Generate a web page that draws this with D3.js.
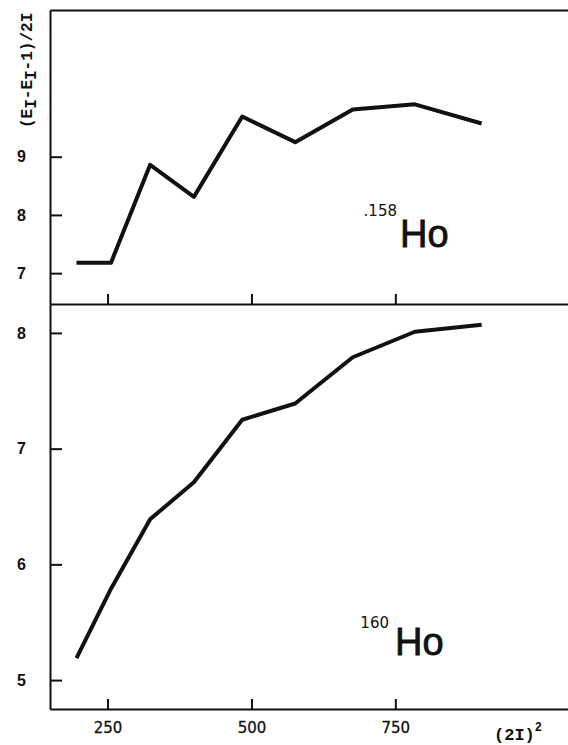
<!DOCTYPE html>
<html lang="en">
<head>
    <meta charset="UTF-8">
    <script src="https://cdn.jsdelivr.net/npm/d3@7"></script>
    <style>
        body { margin: 0; background: #fff; }
        .axis path, .axis line { stroke: #111; stroke-width: 2; }
        .ytick text { font-family: "Liberation Sans", sans-serif; font-weight: bold; font-size: 16px; fill: #111; }
        .xtick text { font-family: "DejaVu Sans", sans-serif; font-size: 15px; fill: #111; stroke: #111; stroke-width: 0.3; }
        .mono { font-family: "Liberation Mono", monospace; font-weight: bold; fill: #111; }
        .nuc { font-family: "Liberation Sans", sans-serif; font-size: 38px; fill: #111; stroke: #111; stroke-width: 0.8; }
        .mass { font-family: "DejaVu Sans", sans-serif; font-size: 15px; fill: #111; }
    </style>
</head>
<body>
<svg width="568" height="745"></svg>
<script>
    // (2I)^2 for I = 7..15
    var spinSq = [196, 256, 324, 400, 484, 576, 676, 784, 900];
    var ho158 = [7.18, 7.18, 8.86, 8.31, 9.69, 9.25, 9.81, 9.90, 9.57];
    var ho160 = [5.19, 5.79, 6.39, 6.71, 7.25, 7.39, 7.79, 8.01, 8.07];
    var xTicks = [250, 500, 750];
    var yTicksTop = [7, 8, 9];
    var yTicksBottom = [5, 6, 7, 8];

    var svg = d3.select("svg");
    var padL = 50, padR = 568, padT = 10, mid = 304, padB = 709;

    var x = d3.scaleLinear().domain([150, 1050]).range([padL, padR]);
    var yTop = d3.scaleLinear().domain([6.47, 11.52]).range([mid, padT]);
    var yBot = d3.scaleLinear().domain([4.75, 8.25]).range([padB, mid]);

    // frame lines
    svg.append("g").attr("class", "axis")
        .attr("transform", "translate(0," + padT + ")")
        .call(d3.axisTop(x).tickValues([]).tickSizeOuter(0));

    svg.append("g").attr("class", "axis")
        .attr("transform", "translate(0," + mid + ")")
        .call(d3.axisBottom(x).tickValues(xTicks).tickSize(-10).tickSizeOuter(0).tickFormat(""));

    svg.append("g").attr("class", "axis xtick")
        .attr("transform", "translate(0," + padB + ")")
        .call(d3.axisBottom(x).tickValues(xTicks).tickSize(-10).tickSizeOuter(0).tickPadding(13));

    svg.append("g").attr("class", "axis ytick")
        .attr("transform", "translate(" + padL + ",0)")
        .call(d3.axisLeft(yTop).tickValues(yTicksTop).tickFormat(d3.format("d"))
            .tickSize(-12).tickSizeOuter(0).tickPadding(24));

    svg.append("g").attr("class", "axis ytick")
        .attr("transform", "translate(" + padL + ",0)")
        .call(d3.axisLeft(yBot).tickValues(yTicksBottom).tickFormat(d3.format("d"))
            .tickSize(-12).tickSizeOuter(0).tickPadding(24));

    // curves
    function drawLine(vals, y) {
        var line = d3.line()
            .x(function (d, i) { return x(spinSq[i]); })
            .y(function (d) { return y(d); });
        svg.append("path")
            .datum(vals)
            .attr("d", line)
            .attr("fill", "none")
            .attr("stroke", "#111")
            .attr("stroke-width", 4)
            .attr("stroke-linejoin", "round");
    }
    drawLine(ho158, yTop);
    drawLine(ho160, yBot);

    // y axis title
    var yt = svg.append("text").attr("class", "mono")
        .attr("transform", "translate(32,128) rotate(-90)")
        .style("font-size", "16px");
    yt.append("tspan").text("(E");
    yt.append("tspan").attr("dy", 4).text("I");
    yt.append("tspan").attr("dy", -4).text("-E");
    yt.append("tspan").attr("dy", 4).text("I");
    yt.append("tspan").attr("dy", -4).text("-1)/2I");

    // x axis title
    var xt = svg.append("text").attr("class", "mono")
        .attr("x", 494).attr("y", 740)
        .style("font-size", "17px");
    xt.append("tspan").text("(2I)");
    xt.append("tspan").attr("dy", -9).style("font-size", "12px").text("2");

    // nuclide labels
    function nuclide(px, py, mass, mx, my) {
        svg.append("text").attr("class", "mass")
            .attr("x", mx).attr("y", my).attr("text-anchor", "end").text(mass);
        svg.append("text").attr("class", "nuc").attr("x", px).attr("y", py).text("Ho");
    }
    nuclide(400, 247, ".158", 397, 216);
    nuclide(395, 655, "160", 389, 628);
</script>
</body>
</html>
